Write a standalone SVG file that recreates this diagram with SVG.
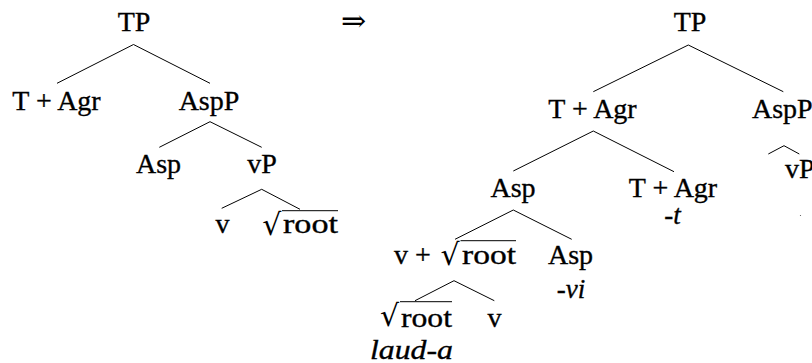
<svg xmlns="http://www.w3.org/2000/svg" width="812" height="363" viewBox="0 0 812 363">
<style>
text{font-family:"Liberation Serif","Times New Roman",serif;font-size:28px;fill:#000;stroke:#000;stroke-width:0.35}
.m{text-anchor:middle}
.i{font-style:italic;font-size:27px}
.rad{font-family:"DejaVu Serif",serif;font-size:30px;stroke-width:0}
.e{stroke:#000;stroke-width:1;fill:none}
</style>
<rect width="812" height="363" fill="#fff"/>
<g id="connectors">
<path class="e" d="M57 83.3L133.5 44.5L210 83.3"/>
<path class="e" d="M159.3 147.3L210 121.7L261.7 147.3"/>
<path class="e" d="M221.7 208.3L261.7 189.3L300 209.3"/>
<path class="e" d="M593.3 91.7L688.3 45L783.3 91.7"/>
<path class="e" d="M513.3 171L593.3 131L674 171.7"/>
<path class="e" d="M455 239.3L513.3 210L571.7 239.3"/>
<path class="e" d="M415 300.7L454 280.7L494.3 300.7"/>
<path class="e" d="M768.3 154L784 145.7L799.3 154"/>
</g>
<g id="arrow"><text x="353.5" y="31" class="m" style="font-family:'DejaVu Serif',serif;font-size:30px;stroke-width:0">⇒</text></g>
<g id="L-TP"><text x="134" y="31" class="m">TP</text></g>
<g id="L-TAgr"><text x="56.5" y="110" class="m">T + Agr</text></g>
<g id="L-AspP"><text x="209" y="110" class="m">AspP</text></g>
<g id="L-Asp"><text x="158.5" y="173" class="m">Asp</text></g>
<g id="L-vP"><text x="262" y="173" class="m">vP</text></g>
<g id="L-v"><text x="222.5" y="233" class="m">v</text></g>
<g id="L-root"><text x="262.3" y="234.7" class="rad">√</text><line class="e" x1="282" y1="210.7" x2="338" y2="210.7"/><text x="283" y="233" textLength="55" lengthAdjust="spacingAndGlyphs">root</text></g>
<g id="R-TP"><text x="690" y="31" class="m">TP</text></g>
<g id="R-TAgr"><text x="592.5" y="118" class="m">T + Agr</text></g>
<g id="R-AspP"><text x="752" y="118">AspP</text></g>
<g id="R-vP"><text x="785" y="178">vP</text><circle cx="800.5" cy="215.5" r="0.6" fill="#555"/></g>
<g id="R-Asp"><text x="513" y="197" class="m">Asp</text></g>
<g id="R-TAgr2"><text x="673" y="197" class="m">T + Agr</text><text x="672.5" y="224" class="m i">-t</text></g>
<g id="R-vroot"><text x="394" y="264">v + </text><text x="440.5" y="264.7" class="rad">√</text><line class="e" x1="460.5" y1="240.7" x2="516" y2="240.7"/><text x="462" y="264" textLength="54" lengthAdjust="spacingAndGlyphs">root</text></g>
<g id="R-Asp2"><text x="570.5" y="264" class="m">Asp</text><text x="571" y="298" class="m i">-vi</text></g>
<g id="R-root"><text x="380" y="325.7" class="rad">√</text><line class="e" x1="400" y1="301.7" x2="452" y2="301.7"/><text x="401" y="327" textLength="51" lengthAdjust="spacingAndGlyphs">root</text><text x="370" y="358.5" class="i" textLength="83" lengthAdjust="spacingAndGlyphs">laud-a</text></g>
<g id="R-v"><text x="494.5" y="327" class="m">v</text></g>
</svg>
